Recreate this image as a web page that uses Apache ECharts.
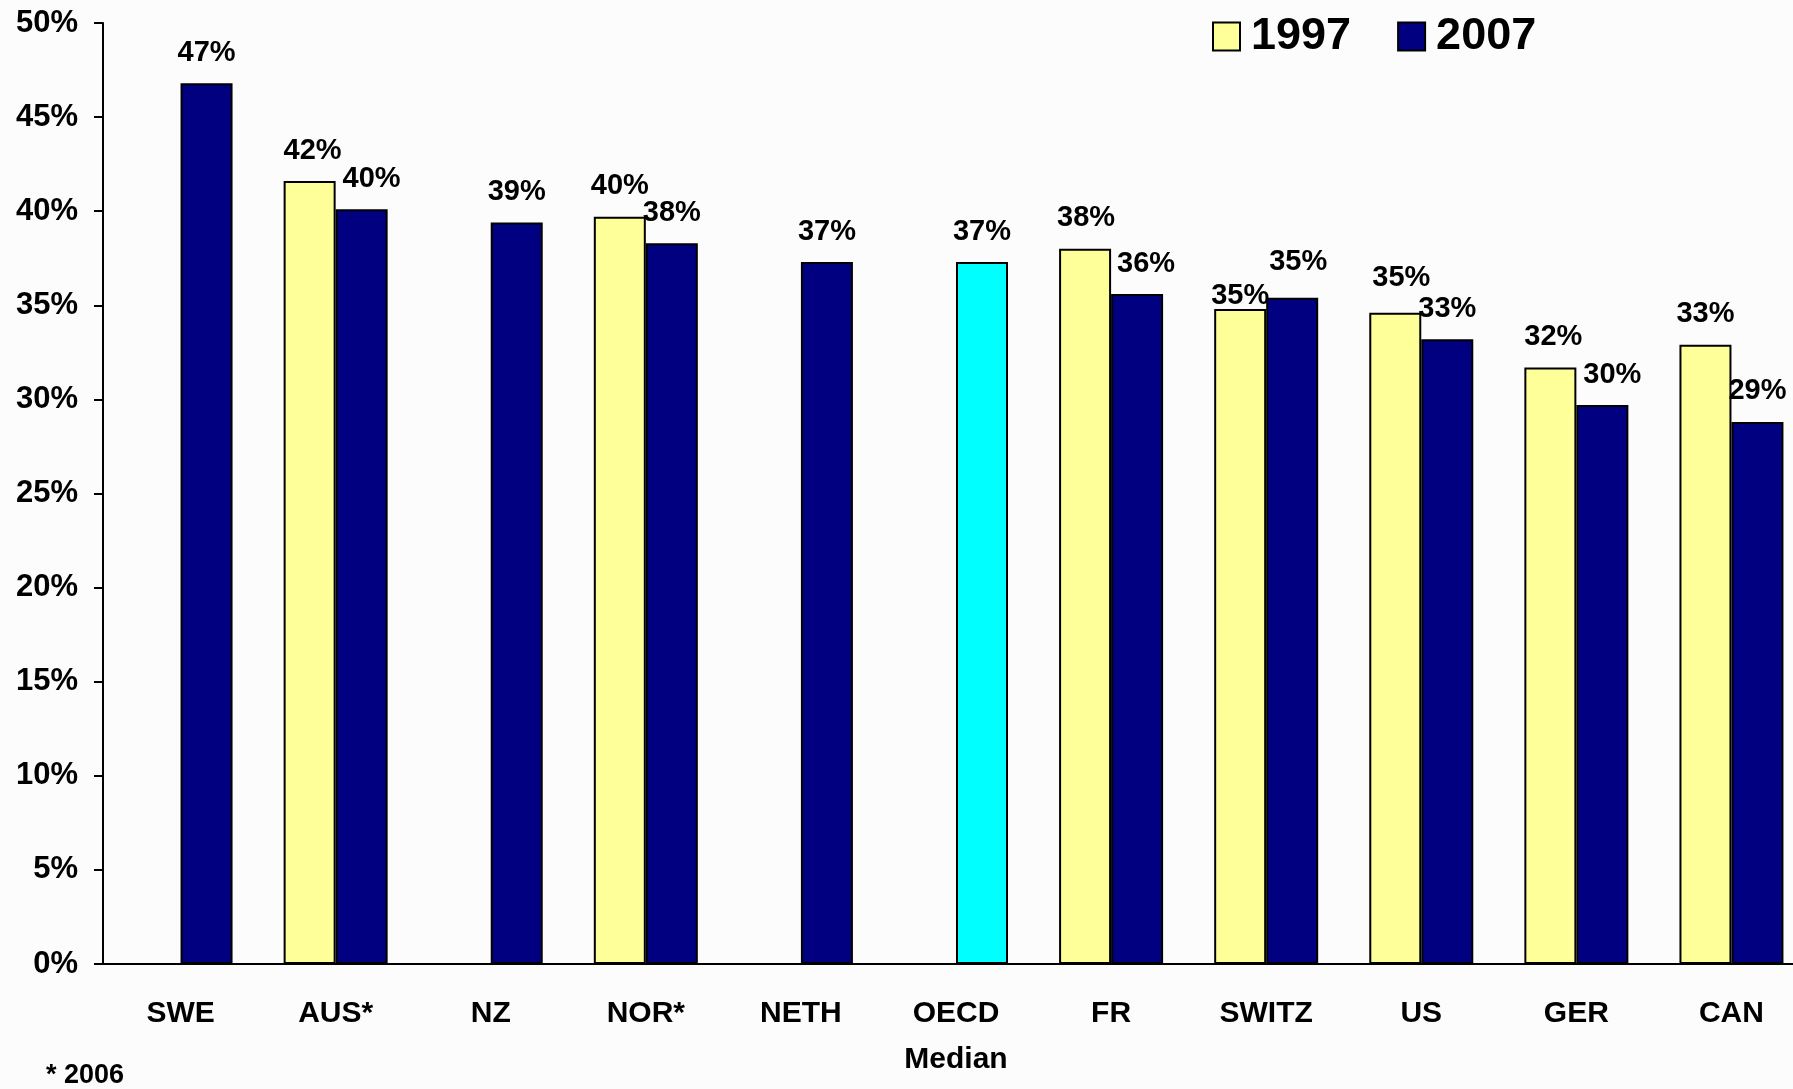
<!DOCTYPE html>
<html>
<head>
<meta charset="utf-8">
<script src="https://cdn.jsdelivr.net/npm/echarts@6/dist/echarts.min.js"></script>
<style>
  html, body { margin: 0; padding: 0; background: #fcfcfc; overflow: hidden; }
  /* the plot runs past the right edge of the window, like the original */
  #chart { width: 1830px; height: 1089px; }
</style>
</head>
<body>
<div id="chart"></div>
<script>
// categories along the x axis
const categories = ["SWE", "AUS*", "NZ", "NOR*", "NETH", "OECD\nMedian", "FR", "SWITZ", "US", "GER", "CAN"]
// values in percent, null where there is no bar
const values1997 = [null, 41.6, null, 39.7, null, null, 38.0, 34.8, 34.6, 31.7, 32.9]
const values2007 = [46.8, 40.1, 39.4, 38.3, 37.3, 37.3, 35.6, 35.4, 33.2, 29.7, 28.8]
const yTicks = { min: 0, max: 50, interval: 5 }

// small hand nudges of the value labels [dx, dy], as placed in the original
const nudge1997 = [null, [3, 0], null, [0, 0], null, null, [1, 0], [0, 17], [6, -4], [3, 0], [0, 0]]
const nudge2007 = [[0, 0], [10, 0], [0, 0], [0, 0], [0, 0], [0, 0], [9, 0], [6, -5], [0, 0], [10, 0], [0, 0]]

const font = "Liberation Sans, Arial, sans-serif"

let myChart = echarts.init(document.getElementById("chart"))

const labelStyle = {
	show: true,
	position: "top",
	distance: 16,
	fontFamily: font,
	fontWeight: "bold",
	fontSize: 29,
	color: "#000",
	formatter: (p) => (p.value == null ? "" : Math.round(p.value) + "%"),
}

function withNudge(values, nudges, extra) {
	return values.map((v, i) => {
		if (v == null) return null
		let item = { value: v, label: { offset: nudges[i] || [0, 0] } }
		if (extra) Object.assign(item, extra(i))
		return item
	})
}

let option = {
	backgroundColor: "#fcfcfc",
	animation: false,
	legend: {
		left: 1207,
		top: 9,
		icon: "rect",
		itemWidth: 27,
		itemHeight: 28,
		itemGap: 46,
		textStyle: {
			fontFamily: font,
			fontWeight: "bold",
			fontSize: 45,
			color: "#000",
			padding: [0, 0, 0, 6],
		},
		data: ["1997", "2007"],
	},
	grid: {
		left: 103,
		top: 23,
		width: 1706,
		height: 941,
	},
	xAxis: {
		type: "category",
		data: categories,
		axisLine: { lineStyle: { color: "#000", width: 2 } },
		axisTick: { length: 10, lineStyle: { color: "#000", width: 2 } },
		axisLabel: {
			interval: 0,
			margin: 27,
			fontFamily: font,
			fontWeight: "bold",
			fontSize: 30,
			lineHeight: 46,
			color: "#000",
		},
	},
	yAxis: {
		type: "value",
		min: yTicks.min,
		max: yTicks.max,
		interval: yTicks.interval,
		splitLine: { show: false },
		axisLine: { show: true, lineStyle: { color: "#000", width: 2 } },
		axisTick: { show: true, length: 9, lineStyle: { color: "#000", width: 2 } },
		axisLabel: {
			formatter: "{value}%",
			margin: 25,
			fontFamily: font,
			fontWeight: "bold",
			fontSize: 31,
			color: "#000",
		},
	},
	series: [
		{
			name: "1997",
			type: "bar",
			barWidth: 52,
			barGap: "0%",
			data: withNudge(values1997, nudge1997),
			itemStyle: { color: "#ffff99", borderColor: "#000", borderWidth: 2 },
			label: labelStyle,
		},
		{
			name: "2007",
			type: "bar",
			barWidth: 52,
			data: withNudge(values2007, nudge2007, (i) =>
				categories[i].startsWith("OECD") ? { itemStyle: { color: "#00ffff" } } : {}
			),
			itemStyle: { color: "#000080", borderColor: "#000", borderWidth: 2 },
			label: labelStyle,
		},
	],
	graphic: [
		{
			type: "text",
			left: 46,
			top: 1062,
			style: {
				text: "* 2006",
				fontFamily: font,
				fontWeight: "bold",
				fontSize: 27,
				fill: "#000",
			},
		},
	],
}
myChart.setOption(option)
</script>
</body>
</html>
